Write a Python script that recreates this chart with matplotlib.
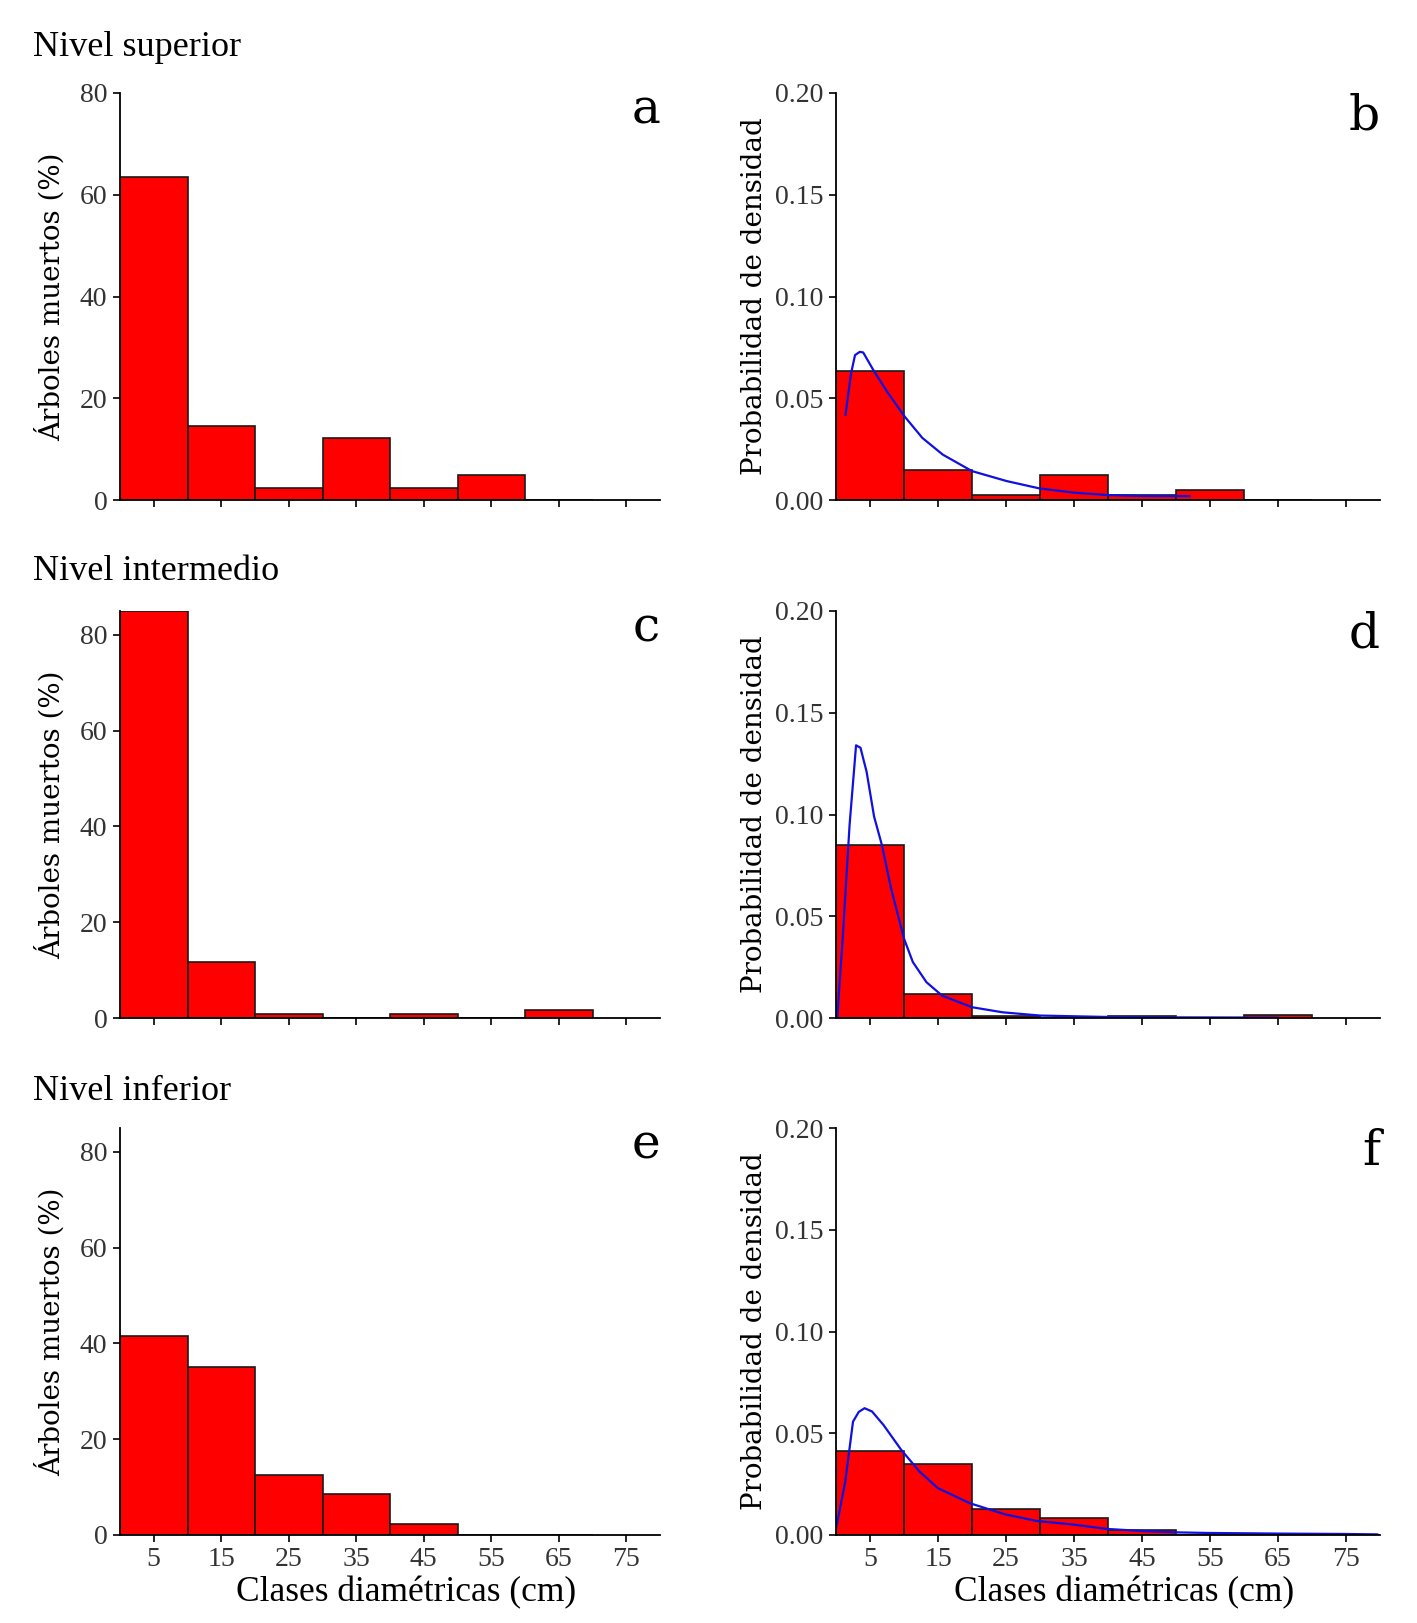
"""Dead-tree diameter class histograms per canopy level, with fitted density curves."""

import matplotlib
matplotlib.use("Agg")
import matplotlib.pyplot as plt
import numpy as np

# Diameter classes (cm): left bin edges, width 10
class_left = [0, 10, 20, 30, 40, 50, 60]
bin_width = 10
tick_pos = [5, 15, 25, 35, 45, 55, 65, 75]

# Percentage of dead trees per class
pct_superior = [63.4, 14.6, 2.4, 12.2, 2.4, 4.9, 0.0]
pct_intermedio = [85.0, 11.6, 0.9, 0.0, 0.9, 0.0, 1.6]
pct_inferior = [41.5, 35.0, 12.6, 8.5, 2.3, 0.0, 0.0]

# Fitted density curves
curve_sup_x = [1.4, 2.2, 2.8, 3.5, 4.0, 5.5, 7.5, 10.1, 12.7, 15.7, 20.0, 25.1,
               29.9, 35.0, 40.1, 45.1, 52.0]
curve_sup_y = [0.0419, 0.062, 0.0712, 0.0728, 0.0725, 0.0638, 0.0533, 0.041, 0.0305,
               0.0223, 0.0142, 0.0093, 0.0057, 0.0036, 0.0024, 0.0020, 0.0019]

curve_int_x = [0.2, 1.0, 2.0, 2.95, 3.6, 4.5, 5.6, 6.75, 8.1, 10.0, 11.3, 13.3,
               15.6, 20.0, 24.5, 30.0, 40.0, 50.0, 65.0]
curve_int_y = [0.001, 0.040, 0.095, 0.134, 0.1328, 0.121, 0.099, 0.085, 0.0637, 0.039,
               0.0275, 0.0176, 0.011, 0.0053, 0.0028, 0.0012, 0.0005, 0.0003, 0.0002]

curve_inf_x = [0.0, 1.35, 2.5, 3.35, 4.2, 5.3, 7.0, 9.6, 12.3, 15.0, 19.7, 24.8,
               29.5, 34.7, 39.8, 44.8, 50.0, 54.7, 65.0, 75.0, 79.6]
curve_inf_y = [0.003, 0.026, 0.0557, 0.0605, 0.0623, 0.0607, 0.054, 0.0418, 0.0311,
               0.023, 0.0156, 0.0102, 0.0069, 0.0052, 0.003, 0.002, 0.0013, 0.001,
               0.0007, 0.0005, 0.0003]

levels = ["Nivel superior", "Nivel intermedio", "Nivel inferior"]
pct_rows = [pct_superior, pct_intermedio, pct_inferior]
curves = [(curve_sup_x, curve_sup_y), (curve_int_x, curve_int_y),
          (curve_inf_x, curve_inf_y)]
letters = [("a", "b"), ("c", "d"), ("e", "f")]
pct_ylim = [80, 85, 85]

BAR_RED = "#FF0000"
CURVE_BLUE = "#1010E0"
TICK_GREY = "#333333"
COND_FONT = "Liberation Serif"
WIDE_FONT = "DejaVu Serif"

W, H, DPI = 1417, 1623, 100
fig = plt.figure(figsize=(W / DPI, H / DPI), dpi=DPI, facecolor="white")

row_bottoms = [1 - 500 / H, 1 - 1018 / H, 1 - 1535 / H]
row_height = 407 / H
left_col = (120 / W, 540 / W)
right_col = (836 / W, 544 / W)
title_y = [1 - 47 / H, 1 - 571 / H, 1 - 1092 / H]


def style_axes(ax, show_xlabels):
    for side in ("top", "right"):
        ax.spines[side].set_visible(False)
    for side in ("left", "bottom"):
        ax.spines[side].set_linewidth(1.3)
    ax.set_xlim(0, 80)
    ax.set_xticks(tick_pos)
    ax.tick_params(direction="out", length=5, width=1.2, colors="black",
                   labelcolor=TICK_GREY, labelsize=20, pad=4)
    for lab in ax.get_yticklabels() + ax.get_xticklabels():
        lab.set_family(COND_FONT)
    if show_xlabels:
        ax.set_xticklabels([str(t) for t in tick_pos], family=COND_FONT)
        ax.set_xlabel("Clases diamétricas (cm)", family=COND_FONT, fontsize=25.5)
        ax.xaxis.set_label_coords(0.53, -0.1)
    else:
        ax.set_xticklabels([])


for i in range(3):
    pct = pct_rows[i]
    dens = [p / 100 / bin_width for p in pct]
    last = i == 2

    # Percentage histogram
    ax = fig.add_axes([left_col[0], row_bottoms[i], left_col[1], row_height])
    ax.bar(class_left, pct, width=bin_width, align="edge", color=BAR_RED,
           edgecolor="#1a1a1a", linewidth=1.2)
    ax.set_ylim(0, pct_ylim[i])
    ax.set_yticks([0, 20, 40, 60, 80])
    style_axes(ax, last)
    ax.set_ylabel("Árboles muertos (%)", family=WIDE_FONT, fontsize=20)
    ax.yaxis.set_label_coords(-0.1, 0.5)
    ax.text(1.0, 1.015, letters[i][0], transform=ax.transAxes, ha="right",
            va="top", family=WIDE_FONT, fontsize=35)

    # Density histogram with fitted curve
    ax2 = fig.add_axes([right_col[0], row_bottoms[i], right_col[1], row_height])
    ax2.bar(class_left, dens, width=bin_width, align="edge", color=BAR_RED,
            edgecolor="#1a1a1a", linewidth=1.2)
    cx, cy = curves[i]
    ax2.plot(cx, cy, color=CURVE_BLUE, linewidth=1.6)
    ax2.set_ylim(0, 0.2)
    ax2.set_yticks([0.0, 0.05, 0.10, 0.15, 0.20])
    ax2.set_yticklabels(["0.00", "0.05", "0.10", "0.15", "0.20"])
    style_axes(ax2, last)
    ax2.set_ylabel("Probabilidad de densidad", family=WIDE_FONT, fontsize=20)
    ax2.yaxis.set_label_coords(-0.125, 0.5)
    ax2.text(1.0, 1.0, letters[i][1], transform=ax2.transAxes, ha="right",
             va="top", family=WIDE_FONT, fontsize=35)

    fig.text(33 / W, title_y[i], levels[i], ha="left", va="center",
             family=COND_FONT, fontsize=26)

fig.savefig("out.png", dpi=DPI, facecolor="white")
